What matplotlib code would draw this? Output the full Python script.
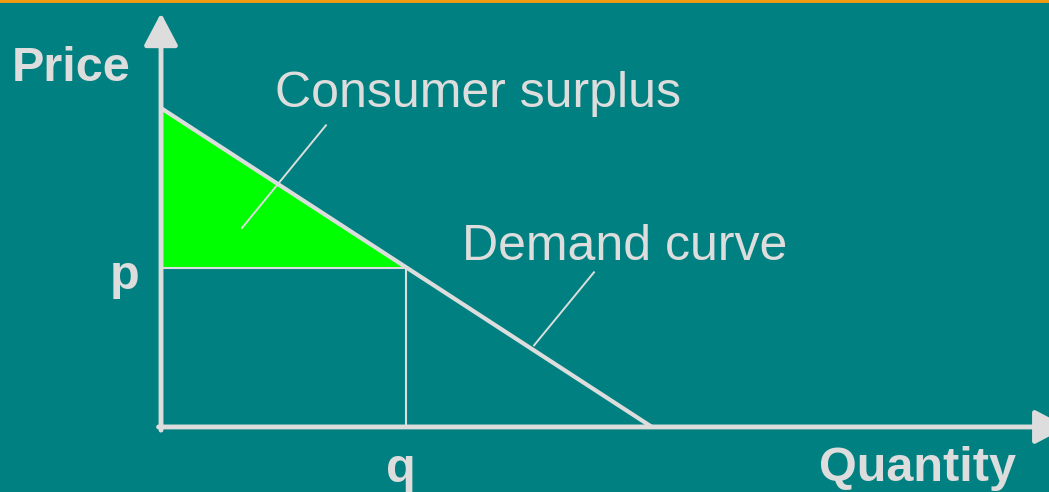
import matplotlib.pyplot as plt

# Demand curve end points (quantity, price)
demand_q = [0, 10]
demand_p = [10, 0]
# market point
p = 5
q = 5
# axis lengths
x_max = 18.46
y_max = 12.98

bg = '#008080'
fg = '#DDDDDD'

plt.rcParams['font.family'] = ['Liberation Sans', 'DejaVu Sans']

fig = plt.figure(figsize=(10.49, 4.92), dpi=100, facecolor=bg)
ax = fig.add_axes([0, 0, 1, 1])
ax.set_facecolor(bg)
ax.set_xlim(-3.28, 18.09)
ax.set_ylim(-2.04, 13.39)
ax.axis('off')

# orange rule at the top
ax.axhline(13.39, color='#F39C12', lw=3.5)

# consumer surplus triangle
ax.fill([0, 0, q], [demand_p[0], p, p], color='#00FF00', lw=0, zorder=1)

# guide lines for p and q
ax.plot([0, q], [p, p], color=fg, lw=1.5, zorder=2)
ax.plot([q, q], [0, p], color=fg, lw=1.5, zorder=2)

# demand curve
ax.plot(demand_q, demand_p, color=fg, lw=3, solid_capstyle='butt', zorder=3)

# axes with arrows
arrow = dict(arrowstyle='-|>,head_length=0.38,head_width=0.2', mutation_scale=52,
             color=fg, lw=3.5, shrinkA=0, shrinkB=0)
ax.annotate('', xy=(0, y_max), xytext=(0, -0.1), arrowprops=arrow,
            annotation_clip=False, zorder=4)
ax.annotate('', xy=(x_max, 0), xytext=(-0.05, 0), arrowprops=arrow,
            annotation_clip=False, zorder=4)

# labels
bold = dict(color=fg, fontsize=35, fontweight='bold')
ax.text(-1.83, 11.24, 'Price', ha='center', va='center', **bold)
ax.text(-0.74, 4.72, 'p', ha='center', va='center', **bold)
ax.text(4.89, -1.33, 'q', ha='center', va='center', **bold)
ax.text(15.41, -1.30, 'Quantity', ha='center', va='center', **bold)

normal = dict(color=fg, fontsize=36)
ax.text(6.46, 10.45, 'Consumer surplus', ha='center', va='center', **normal)
ax.text(9.44, 5.65, 'Demand curve', ha='center', va='center', **normal)

# leader lines
ax.plot([3.36, 1.65], [9.46, 6.24], color=fg, lw=1.4)
ax.plot([8.82, 7.6], [4.85, 2.56], color=fg, lw=1.4)

fig.savefig('out.png', dpi=100, facecolor=bg)
